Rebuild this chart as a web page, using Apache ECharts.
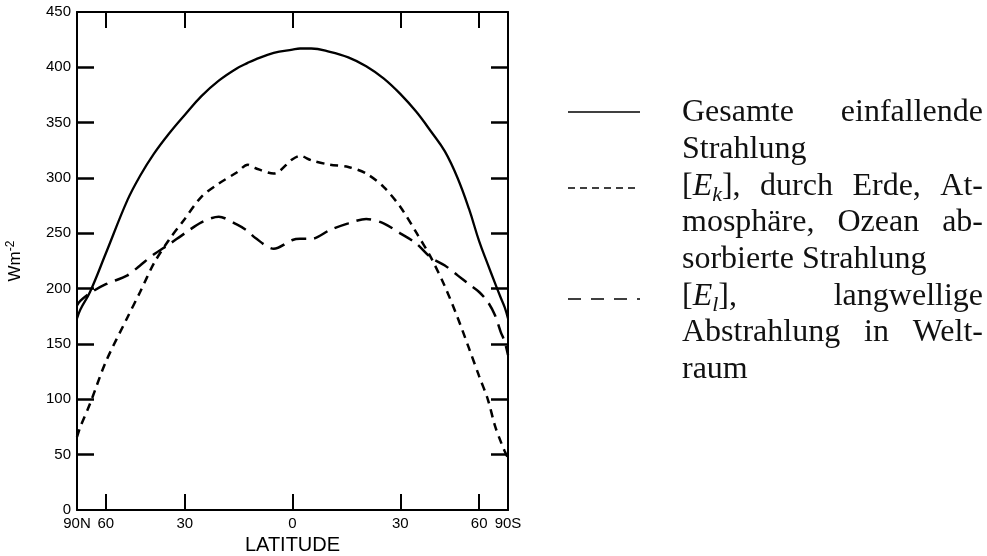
<!DOCTYPE html>
<html>
<head>
<meta charset="utf-8">
<script src="https://cdn.jsdelivr.net/npm/echarts@6/dist/echarts.min.js"></script>
<style>
  html, body { margin: 0; padding: 0; background: #fff; }
  #chart { width: 987px; height: 556px; }
</style>
</head>
<body>
<div id="chart"></div>
<script>
// Breite (positiv = Nord), x-Achse ist flaechentreu (sin der Breite)
var lat = [90, 80, 70, 60, 50, 45, 40, 35, 30, 25, 20, 15, 12, 10, 5, 0, -2, -5, -10, -15, -20,
           -25, -30, -35, -40, -45, -50, -55, -60, -65, -70, -75, -80, -90];
// Gesamte einfallende Strahlung
var total = [173, 181, 197, 232, 280, 302, 322, 340, 357, 374, 388, 399, 404, 407, 413, 416, 417, 417, 414, 409, 401,
             390, 376, 360, 342, 324, 300, 272, 243, 222, 205, 192, 183, 173];
// [Ek] absorbierte Strahlung
var absorbed = [66, 75, 96, 134, 174, 197, 223, 244, 263, 283, 295, 305, 312, 309, 304, 317, 320, 316, 312, 310, 304,
                292, 274, 251, 228, 202, 174, 146, 121, 100, 76, 62, 53, 47];
// [El] langwellige Abstrahlung
var outgoing = [185, 189, 196, 204, 212, 221, 231, 240, 250, 260, 265, 258, 252, 246, 236, 244, 245, 245, 253, 259, 263,
                259, 250, 241, 228, 221, 212, 204, 197, 188, 176, 161, 152, 140];

var tickLat = [90, 60, 30, 0, -30, -60, -90];
var tickLabels = ['90N', '60', '30', '0', '30', '60', '90S'];
var yTicks = [50, 100, 150, 200, 250, 300, 350, 400];

function sx(l) { return -Math.sin(l * Math.PI / 180); }
var tickX = tickLat.map(sx);

function pairs(vals) {
  return lat.map(function (l, i) { return [sx(l), vals[i]]; });
}

function tickLabel(v) {
  var best = 0;
  for (var i = 0; i < tickX.length; i++) {
    if (Math.abs(tickX[i] - v) < Math.abs(tickX[best] - v)) best = i;
  }
  return tickLabels[best];
}

// Legende (Blocksatz wie im Original)
var legendFont = 'Liberation Serif';
var legendSize = 32;
var legendLeft = 682, legendRight = 983;
var legendBase = [121.7, 158.4, 195.1, 231.8, 268.5, 305.2, 341.9, 378.6];
// jedes Wort: Liste von Segmenten [text, kursiv, tiefgestellt]
var legendLines = [
  { just: true,  words: [[['Gesamte']], [['einfallende']]] },
  { just: false, words: [[['Strahlung']]] },
  { just: true,  words: [[['['], ['E', 1], ['k', 1, 1], ['],']], [['durch']], [['Erde,']], [['At-']]] },
  { just: true,  words: [[['mosphäre,']], [['Ozean']], [['ab-']]] },
  { just: false, words: [[['sorbierte']], [['Strahlung']]] },
  { just: true,  words: [[['['], ['E', 1], ['l', 1, 1], ['],']], [['langwellige']]] },
  { just: true,  words: [[['Abstrahlung']], [['in']], [['Welt-']]] },
  { just: false, words: [[['raum']]] }
];
var legendIcons = [
  { y: 112, dash: null },
  { y: 188, dash: [7, 5] },
  { y: 299, dash: [13, 10] }
];

var ctx = document.createElement('canvas').getContext('2d');
function segFont(s) {
  return (s[1] ? 'italic ' : '') + (s[2] ? 22 : legendSize) + 'px "' + legendFont + '"';
}
function segWidth(s) { ctx.font = segFont(s); return ctx.measureText(s[0]).width; }
function wordWidth(w) { return w.reduce(function (a, s) { return a + segWidth(s); }, 0); }

var graphics = [];
legendLines.forEach(function (line, li) {
  var widths = line.words.map(wordWidth);
  var sum = widths.reduce(function (a, b) { return a + b; }, 0);
  var gap = segWidth([' ']);
  if (line.just && line.words.length > 1) gap = (legendRight - legendLeft - sum) / (line.words.length - 1);
  var x = legendLeft;
  line.words.forEach(function (w) {
    w.forEach(function (s) {
      var size = s[2] ? 22 : legendSize;
      graphics.push({
        type: 'text', x: x, y: legendBase[li] + (s[2] ? 6 : 0) + size * 0.22,
        style: {
          text: s[0], fill: '#111',
          font: segFont(s),
          textAlign: 'left', textVerticalAlign: 'bottom'
        }
      });
      x += segWidth(s);
    });
    x += gap;
  });
});
legendIcons.forEach(function (ic) {
  graphics.push({
    type: 'line', shape: { x1: 568, y1: ic.y, x2: 640, y2: ic.y },
    style: { stroke: '#000', lineWidth: 1.3, lineDash: ic.dash }
  });
});

var chart = echarts.init(document.getElementById('chart'), null, { renderer: 'canvas' });
var axisFont = { fontFamily: 'Liberation Sans', fontSize: 15, color: '#000' };
var edge = { onZero: false, lineStyle: { color: '#000', width: 2 } };
var option = {
  animation: false,
  backgroundColor: '#fff',
  grid: { left: 77, right: 479, top: 12, bottom: 46, containLabel: false, outerBoundsMode: 'none' },
  xAxis: [{
    type: 'value', min: -1, max: 1, position: 'bottom',
    name: 'LATITUDE', nameLocation: 'middle', nameGap: 17,
    nameTextStyle: { fontFamily: 'Liberation Sans', fontSize: 20, color: '#000' },
    axisLine: edge,
    axisTick: { inside: true, length: 16, customValues: tickX, lineStyle: { color: '#000', width: 2 } },
    axisLabel: Object.assign({ customValues: tickX, margin: 6, formatter: tickLabel, hideOverlap: false }, axisFont),
    splitLine: { show: false }
  }, {
    type: 'value', min: -1, max: 1, position: 'top',
    axisLine: edge,
    axisTick: { inside: true, length: 16, customValues: tickX, lineStyle: { color: '#000', width: 2 } },
    axisLabel: { show: false },
    splitLine: { show: false }
  }],
  yAxis: [{
    type: 'value', min: 0, max: 450, interval: 50, position: 'left',
    name: 'Wm{sup|-2}', nameLocation: 'middle', nameRotate: 90, nameGap: 52,
    nameTextStyle: {
      fontFamily: 'Liberation Sans', fontSize: 17, color: '#000',
      rich: { sup: { fontFamily: 'Liberation Sans', fontSize: 12, color: '#000', verticalAlign: 'top', padding: [0, 0, 8, 0] } }
    },
    axisLine: edge,
    axisTick: { inside: true, length: 17, customValues: yTicks, lineStyle: { color: '#000', width: 2.5 } },
    axisLabel: Object.assign({ margin: 6 }, axisFont),
    splitLine: { show: false }
  }, {
    type: 'value', min: 0, max: 450, interval: 50, position: 'right',
    axisLine: edge,
    axisTick: { inside: true, length: 17, customValues: yTicks, lineStyle: { color: '#000', width: 2.5 } },
    axisLabel: { show: false },
    splitLine: { show: false }
  }],
  series: [{
    name: 'Gesamte einfallende Strahlung', type: 'line', smooth: 0.4, showSymbol: false,
    data: pairs(total), lineStyle: { color: '#000', width: 2.3 }
  }, {
    name: '[Ek] absorbierte Strahlung', type: 'line', smooth: 0.3, showSymbol: false,
    data: pairs(absorbed), lineStyle: { color: '#000', width: 2.5, type: [8, 6] }
  }, {
    name: '[El] langwellige Abstrahlung', type: 'line', smooth: 0.3, showSymbol: false,
    data: pairs(outgoing), lineStyle: { color: '#000', width: 2.5, type: [15, 8] }
  }],
  graphic: graphics
};
chart.setOption(option);
</script>
</body>
</html>
